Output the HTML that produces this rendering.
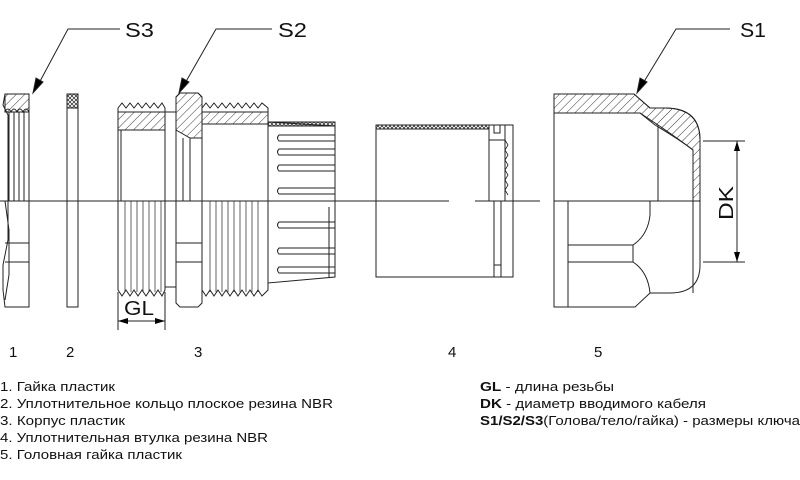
<!DOCTYPE html>
<html><head><meta charset="utf-8"><style>
html,body{margin:0;padding:0;background:#fff;}
svg{display:block;}
text{font-family:"Liberation Sans",sans-serif;fill:#111;}
</style></head><body>
<svg width="800" height="480" viewBox="0 0 800 480" xmlns="http://www.w3.org/2000/svg">
<defs>
<pattern id="h" width="6" height="6" patternUnits="userSpaceOnUse" patternTransform="rotate(45)">
<line x1="0" y1="0" x2="0" y2="6" stroke="#222" stroke-width="0.9"/></pattern>
<pattern id="x" width="4" height="4" patternUnits="userSpaceOnUse">
<path d="M0 0L4 4M4 0L0 4" stroke="#222" stroke-width="0.7"/></pattern>
<marker id="ar" markerWidth="10" markerHeight="6" refX="10" refY="3" orient="auto" markerUnits="userSpaceOnUse"><path d="M0 0L10 3L0 6z" fill="#000"/></marker>
</defs>
<g stroke="#222" stroke-width="1" fill="none">

<!-- Part 1 nut -->
<path d="M5 94H29V307H5L3 290V265L8 240V115L3 105Z" fill="#fff"/>
<rect x="5" y="94" width="24" height="18" fill="url(#h)"/>
<path d="M5 112Q8 106 11 112Q14 106 17 112Q20 106 23 112Q26 106 29 112"/>
<line x1="9" y1="112" x2="9" y2="201"/><line x1="14" y1="112" x2="14" y2="201"/><line x1="19" y1="112" x2="19" y2="201"/><line x1="24" y1="112" x2="24" y2="201"/>
<line x1="5" y1="243" x2="29" y2="243"/><line x1="5" y1="262" x2="29" y2="262"/>
<path d="M5 201L9 230V275L5 300"/>

<!-- Part 2 washer -->
<rect x="67" y="94" width="11" height="213" fill="#fff"/>
<rect x="67" y="94" width="11" height="14" fill="url(#x)"/>
<line x1="67" y1="108" x2="78" y2="108"/>

<!-- Part 3 body -->
<path d="M118 108L122 103L126 108L130 103L134 108L138 103L142 108L146 103L150 108L154 103L158 108L162 103L165 108V290L162 296L158 290L154 296L150 290L146 296L142 290L138 296L134 290L130 296L126 290L122 296L118 290Z" fill="#fff"/>
<rect x="118" y="112" width="58" height="18" fill="url(#h)"/>
<line x1="118" y1="112" x2="176" y2="112"/><line x1="118" y1="130" x2="176" y2="130"/>
<g stroke-width="0.7"><line x1="125" y1="201" x2="125" y2="292"/><line x1="131" y1="201" x2="131" y2="292"/><line x1="137" y1="201" x2="137" y2="292"/><line x1="143" y1="201" x2="143" y2="292"/><line x1="149" y1="201" x2="149" y2="292"/><line x1="155" y1="201" x2="155" y2="292"/><line x1="161" y1="201" x2="161" y2="292"/></g>
<line x1="121" y1="130" x2="121" y2="201"/>
<rect x="165" y="112" width="11" height="175" fill="#fff"/>
<path d="M176 97L180 93H198L202 97V303L198 307H180L176 303Z" fill="#fff"/>
<path d="M176 97L180 93H198L202 97V138H190L176 130Z" fill="url(#h)"/>
<line x1="176" y1="243" x2="202" y2="243"/><line x1="176" y1="262" x2="202" y2="262"/>
<line x1="183" y1="138" x2="183" y2="201"/><line x1="190" y1="138" x2="190" y2="201"/>
<path d="M202 108L206 103L210 108L214 103L218 108L222 103L226 108L230 103L234 108L238 103L242 108L246 103L250 108L254 103L258 108L262 103L268 108V290L262 296L258 290L254 296L250 290L246 296L242 290L238 296L234 290L230 296L226 290L222 296L218 290L214 296L210 290L206 296L202 290Z" fill="#fff"/>
<rect x="202" y="112" width="66" height="12" fill="url(#h)"/>
<line x1="202" y1="124" x2="268" y2="124"/><line x1="202" y1="112" x2="268" y2="112"/>
<g stroke-width="0.7"><line x1="210" y1="201" x2="210" y2="292"/><line x1="216" y1="201" x2="216" y2="292"/><line x1="222" y1="201" x2="222" y2="292"/><line x1="228" y1="201" x2="228" y2="292"/><line x1="234" y1="201" x2="234" y2="292"/><line x1="240" y1="201" x2="240" y2="292"/><line x1="246" y1="201" x2="246" y2="292"/><line x1="252" y1="201" x2="252" y2="292"/><line x1="258" y1="201" x2="258" y2="292"/></g>
<!-- cap -->
<path d="M268 122L335 126V277L268 283Z" fill="#fff"/>
<rect x="268" y="122" width="67" height="4" fill="url(#x)"/>
<g>
<path d="M335 135H279Q276 138 279 141H335"/>
<path d="M335 149H279Q276 152 279 155H335"/>
<path d="M335 165H279Q276 168 279 171H335"/>
<path d="M335 188H279Q276 191 279 194H335"/>
<path d="M335 222H279Q276 225 279 228H335"/>
<path d="M335 248H279Q276 251 279 254H335"/>
<path d="M335 267H279Q276 270 279 273H335"/>
<line x1="329" y1="207" x2="329" y2="277"/>
</g>
<!-- GL -->
<line x1="118" y1="292" x2="118" y2="330"/><line x1="165" y1="292" x2="165" y2="330"/>
<line x1="140" y1="321" x2="118" y2="321" marker-end="url(#ar)"/>
<line x1="140" y1="321" x2="165" y2="321" marker-end="url(#ar)"/>

<!-- Part 4 -->
<rect x="376" y="125" width="137" height="152" fill="#fff"/>
<rect x="376" y="125" width="113" height="4" fill="url(#x)"/>
<line x1="376" y1="129" x2="489" y2="129"/>
<path d="M489 125V201M489 140H505V201M505 125V201M513 125V201"/>
<path d="M489 125H494V133H500V125H513" />
<path d="M505 140L508 145L505 150L508 155L505 160L508 165L505 170L508 175L505 180L508 185L505 190L508 195" stroke-width="0.8"/>
<path d="M494 201V277M501 201V277M494 265H501"/>

<!-- Part 5 -->
<path d="M554 94H634L650 108H665Q700 108 700 140V265Q700 293 670 293H650L635 307H554Z" fill="#fff"/>
<path d="M554 94H634L650 108H665Q700 108 700 140V201H693V150Q680 140 655 125L640 113H554Z" fill="url(#h)"/>
<path d="M554 113H640L658 125Q680 140 693 150V201"/>
<line x1="658" y1="125" x2="658" y2="201"/>
<path d="M568 201V307"/>
<line x1="693" y1="201" x2="693" y2="293"/>
<path d="M650 201V215Q648 235 633 245H568M633 262H568M633 262Q648 272 650 293"/>
<line x1="633" y1="245" x2="633" y2="262"/>
<!-- DK -->
<line x1="703" y1="141" x2="745" y2="141"/><line x1="703" y1="262" x2="745" y2="262"/>
<line x1="737" y1="201" x2="737" y2="141" marker-end="url(#ar)"/>
<line x1="737" y1="201" x2="737" y2="262" marker-end="url(#ar)"/>

<!-- centerline -->
<line x1="0" y1="201" x2="449" y2="201"/>
<line x1="475" y1="201" x2="540" y2="201"/>
<line x1="554" y1="201" x2="700" y2="201"/>

<!-- leaders -->
<path d="M120 29H68L38 85"/><path d="M33 93L36 78L43 82Z" fill="#000"/>
<path d="M272 29H216L184 85"/><path d="M179 93L182 78L189 82Z" fill="#000"/>
<path d="M730 29H676L642 85"/><path d="M637 93L640 78L647 82Z" fill="#000"/>
</g>
<g font-size="20">
<text x="125" y="37" textLength="29" lengthAdjust="spacingAndGlyphs">S3</text>
<text x="278" y="37" textLength="29" lengthAdjust="spacingAndGlyphs">S2</text>
<text x="740" y="37" textLength="26" lengthAdjust="spacingAndGlyphs">S1</text>
<text x="124" y="315" textLength="30" lengthAdjust="spacingAndGlyphs">GL</text>
<text transform="translate(733,220) rotate(-90)" textLength="34" lengthAdjust="spacingAndGlyphs">DK</text>
</g>
<g font-size="15">
<text x="9" y="357">1</text><text x="66" y="357">2</text><text x="194" y="357">3</text><text x="448" y="357">4</text><text x="594" y="357">5</text>
</g>
<g font-size="13">
<text x="0" y="391" textLength="115" lengthAdjust="spacingAndGlyphs">1. Гайка пластик</text>
<text x="0" y="408" textLength="333" lengthAdjust="spacingAndGlyphs">2. Уплотнительное кольцо плоское резина NBR</text>
<text x="0" y="425" textLength="125" lengthAdjust="spacingAndGlyphs">3. Корпус пластик</text>
<text x="0" y="442" textLength="268" lengthAdjust="spacingAndGlyphs">4. Уплотнительная втулка резина NBR</text>
<text x="0" y="459" textLength="182" lengthAdjust="spacingAndGlyphs">5. Головная гайка пластик</text>
<text x="480" y="391" textLength="134" lengthAdjust="spacingAndGlyphs"><tspan font-weight="bold">GL</tspan> - длина резьбы</text>
<text x="480" y="408" textLength="226" lengthAdjust="spacingAndGlyphs"><tspan font-weight="bold">DK</tspan> - диаметр вводимого кабеля</text>
<text x="480" y="425" textLength="320" lengthAdjust="spacingAndGlyphs"><tspan font-weight="bold">S1/S2/S3</tspan>(Голова/тело/гайка) - размеры ключа</text>
</g>
</svg>
</body></html>
